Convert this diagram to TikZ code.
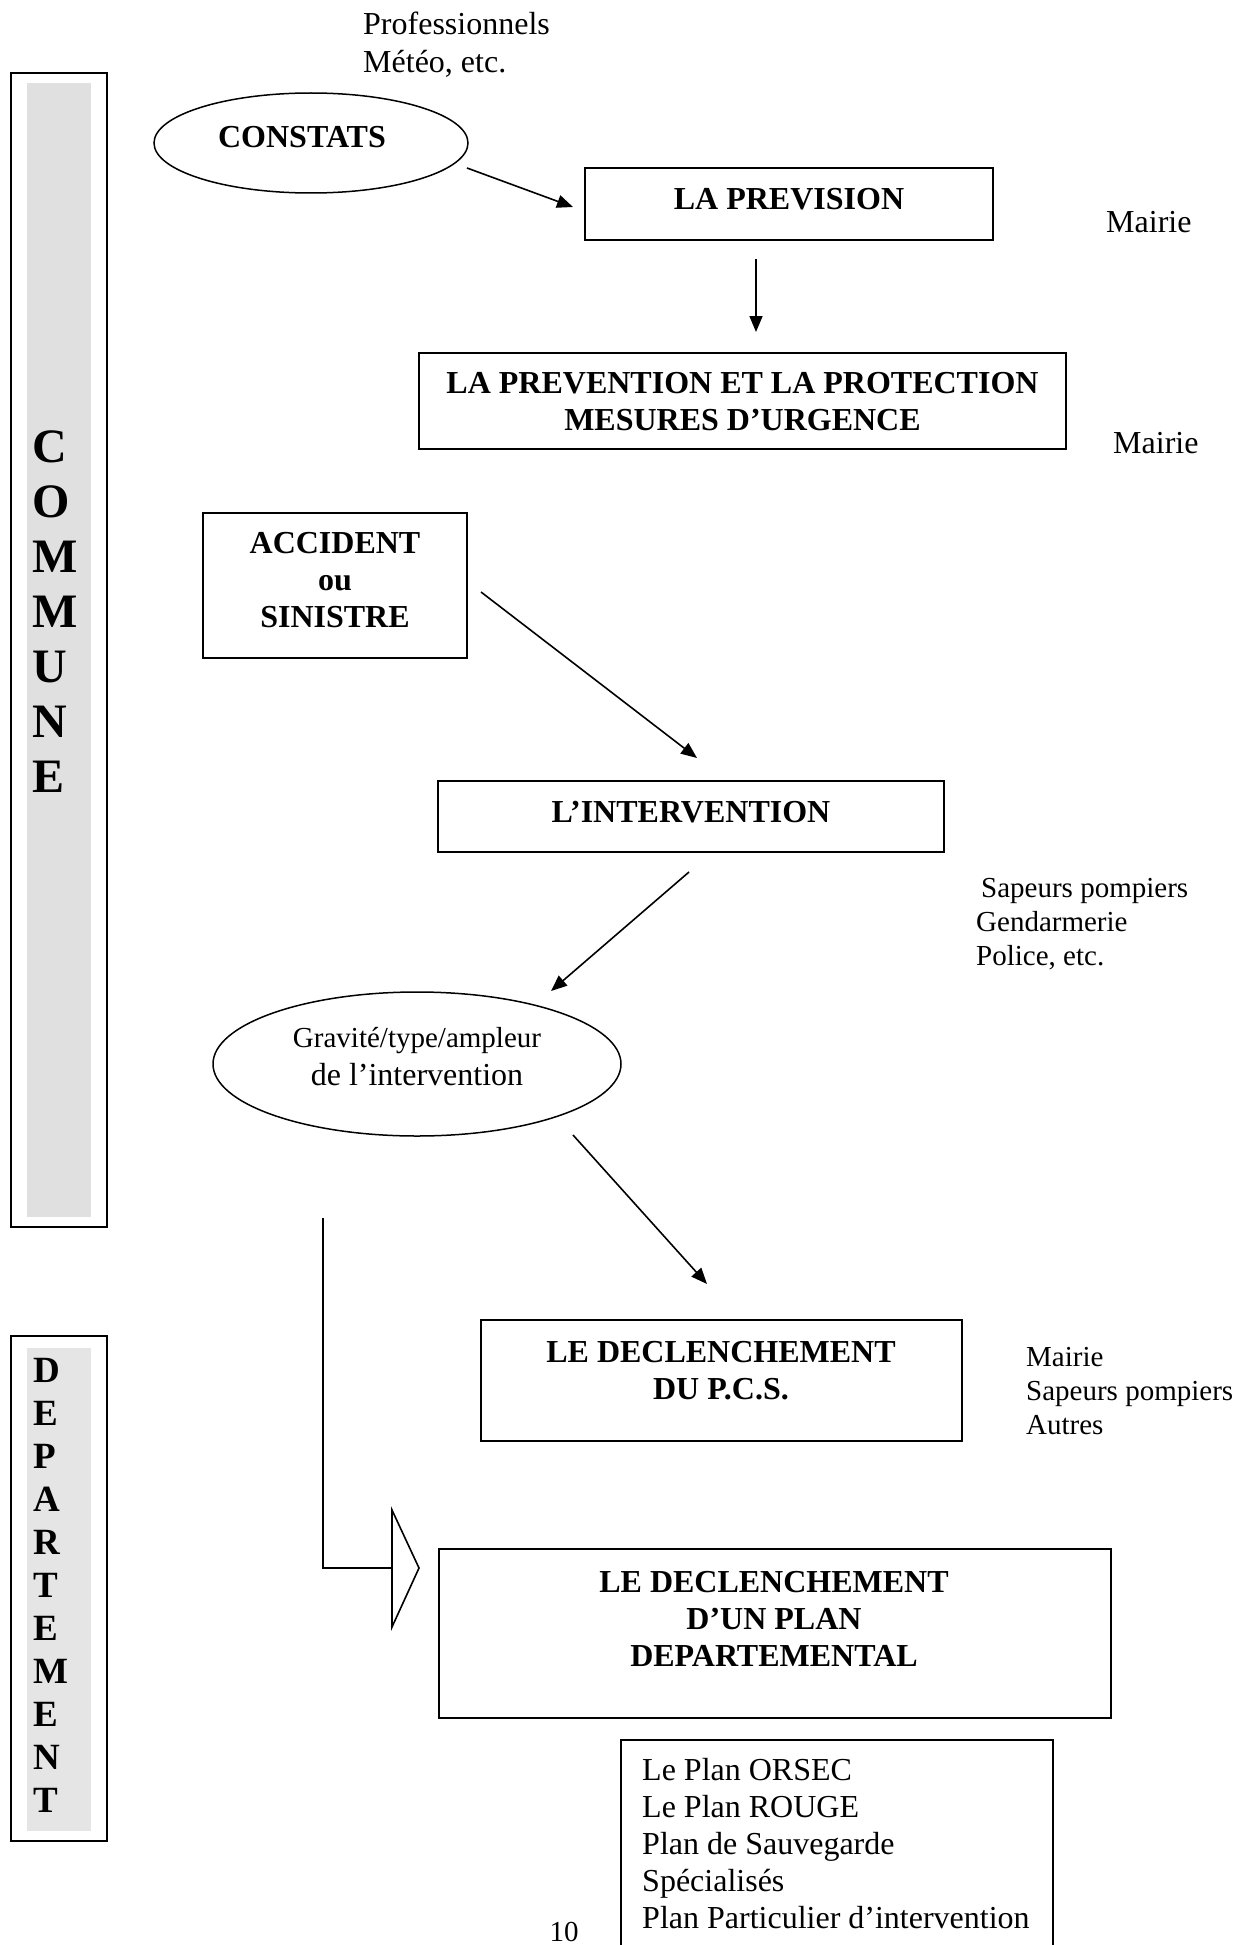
\documentclass[tikz,border=0pt]{standalone}
\usepackage{fontspec}
\setmainfont{Liberation Serif}
\usetikzlibrary{shapes.geometric,arrows.meta,calc}
\begin{document}
\begin{tikzpicture}[x=1pt,y=-1pt,
  boxnode/.style={draw,rectangle,line width=1.5pt,inner sep=0pt},
  sidebox/.style={draw,rectangle,line width=2.2pt,inner sep=0pt},
  greyband/.style={rectangle,inner sep=0pt},
  ellnode/.style={draw,ellipse,line width=1.5pt,inner sep=0pt},
  boldtxt/.style={inner sep=0pt,anchor=base,font=\fontsize{32}{37}\selectfont\bfseries},
  plaintxt/.style={inner sep=0pt,anchor=base west,font=\fontsize{32}{38}\selectfont},
  smalltxt/.style={inner sep=0pt,anchor=base west,font=\fontsize{29}{34}\selectfont},
  bigletter/.style={inner sep=0pt,anchor=base west,font=\fontsize{48}{55}\selectfont\bfseries},
  midletter/.style={inner sep=0pt,anchor=base west,font=\fontsize{37}{43}\selectfont\bfseries},
  arr/.style={line width=1.6pt,-{Triangle[length=16pt,width=13pt]}},
  conn/.style={line width=1.6pt}
]
\useasboundingbox (0,0) rectangle (1249,1945);
\fill[white] (0,0) rectangle (1249,1945);

% --- side band COMMUNE ---
\node[sidebox,minimum width=96pt,minimum height=1154pt] (communebox) at (59,650) {};
\node[greyband,fill=black!12,minimum width=64pt,minimum height=1134pt] (communegrey) at (59,650) {};
\foreach \l [count=\i] in {C,O,M,M,U,N,E}
  \node[bigletter] (com\i) at (32,407+55*\i) {\l};

% --- side band DEPARTEMENT ---
\node[sidebox,minimum width=96pt,minimum height=505pt] (deptbox) at (59,1588.5) {};
\node[greyband,fill=black!10,minimum width=64pt,minimum height=483pt] (deptgrey) at (59,1589.5) {};
\foreach \l [count=\i] in {D,E,P,A,R,T,E,M,E,N,T}
  \node[midletter] (dep\i) at (33,1339+43*\i) {\l};

% --- top texts ---
\node[plaintxt] (prof) at (363,35) {\begin{tabular}[t]{@{}l@{}}Professionnels\\M\'et\'eo, etc.\end{tabular}};

% --- CONSTATS ---
\node[ellnode,minimum width=314pt,minimum height=100pt] (constats) at (311,143) {};
\node[boldtxt] (constatstxt) at (302,148) {CONSTATS};

% --- LA PREVISION ---
\node[boxnode,minimum width=408pt,minimum height=72pt] (prevision) at (789,204) {};
\node[boldtxt] (previsiontxt) at (789,210) {LA PREVISION};
\node[plaintxt] (mairie1) at (1106,233) {Mairie};

% --- PREVENTION ---
\node[boxnode,minimum width=647pt,minimum height=96pt] (prevention) at (742.5,401) {};
\node[boldtxt] (preventiontxt) at (742.5,393) {\begin{tabular}[t]{@{}c@{}}LA PREVENTION ET LA PROTECTION\\MESURES D'URGENCE\end{tabular}};
\node[plaintxt] (mairie2) at (1113,453) {Mairie};

% --- ACCIDENT ---
\node[boxnode,minimum width=264pt,minimum height=145pt] (accident) at (335,585.5) {};
\node[boldtxt] (accidenttxt) at (335,553) {\begin{tabular}[t]{@{}c@{}}ACCIDENT\\ou\\SINISTRE\end{tabular}};

% --- INTERVENTION ---
\node[boxnode,minimum width=506pt,minimum height=71pt] (intervention) at (691,816.5) {};
\node[boldtxt] (interventiontxt) at (691,822) {L'INTERVENTION};
\node[smalltxt] (acteurs) at (976,897) {\begin{tabular}[t]{@{}l@{}}\hspace{5pt}Sapeurs pompiers\\Gendarmerie\\Police, etc.\end{tabular}};

% --- Gravite ellipse ---
\node[ellnode,minimum width=408pt,minimum height=144pt] (gravite) at (417,1064) {};
\node[inner sep=0pt,anchor=base,font=\fontsize{29}{34}\selectfont] (gravtxt1) at (417,1047) {Gravit\'e/type/ampleur};
\node[inner sep=0pt,anchor=base,font=\fontsize{32}{37}\selectfont] (gravtxt2) at (417,1085) {de l'intervention};

% --- PCS ---
\node[boxnode,minimum width=481pt,minimum height=121pt] (pcs) at (721.5,1380.5) {};
\node[boldtxt] (pcstxt) at (721,1362) {\begin{tabular}[t]{@{}c@{}}LE DECLENCHEMENT\\DU P.C.S.\end{tabular}};
\node[smalltxt] (pcsacteurs) at (1026,1366) {\begin{tabular}[t]{@{}l@{}}Mairie\\Sapeurs pompiers\\Autres\end{tabular}};

% --- Plan departemental ---
\node[boxnode,minimum width=672pt,minimum height=169pt] (plandep) at (775,1633.5) {};
\node[boldtxt] (plandeptxt) at (774,1592) {\begin{tabular}[t]{@{}c@{}}LE DECLENCHEMENT\\D'UN PLAN\\DEPARTEMENTAL\end{tabular}};

% --- list of plans ---
\node[boxnode,minimum width=432pt,minimum height=230pt] (plans) at (837,1855) {};
\node[inner sep=0pt,anchor=base west,font=\fontsize{32}{37}\selectfont] (planstxt) at (642,1780) {\begin{tabular}[t]{@{}l@{}}Le Plan ORSEC\\Le Plan ROUGE\\Plan de Sauvegarde\\Sp\'ecialis\'es\\Plan Particulier d'intervention\end{tabular}};

% --- page number ---
\node[inner sep=0pt,anchor=base,font=\fontsize{29}{34}\selectfont] (pagenum) at (564,1941) {10};

% --- connectors ---
\coordinate (a1s) at (467,168);  \coordinate (a1e) at (573,207);
\coordinate (a2s) at (756,259);  \coordinate (a2e) at (756,332);
\coordinate (a3s) at (481,592);  \coordinate (a3e) at (697,758);
\coordinate (a4s) at (689,872);  \coordinate (a4e) at (551,991);
\coordinate (a5s) at (573,1135); \coordinate (a5e) at (707,1284);
\draw[arr] (a1s) -- (a1e);
\draw[arr] (a2s) -- (a2e);
\draw[arr] (a3s) -- (a3e);
\draw[arr] (a4s) -- (a4e);
\draw[arr] (a5s) -- (a5e);

% --- block arrow towards departmental plan ---
\coordinate (l1s) at (323,1218);
\coordinate (l1c) at (323,1568);
\coordinate (tribase) at (392,1568);
\draw[conn] (l1s) -- (l1c) -- (tribase);
\draw[line width=1.6pt,fill=white,line join=miter] (392,1510) -- (419,1568) -- (392,1627) -- cycle;
\end{tikzpicture}
\end{document}
